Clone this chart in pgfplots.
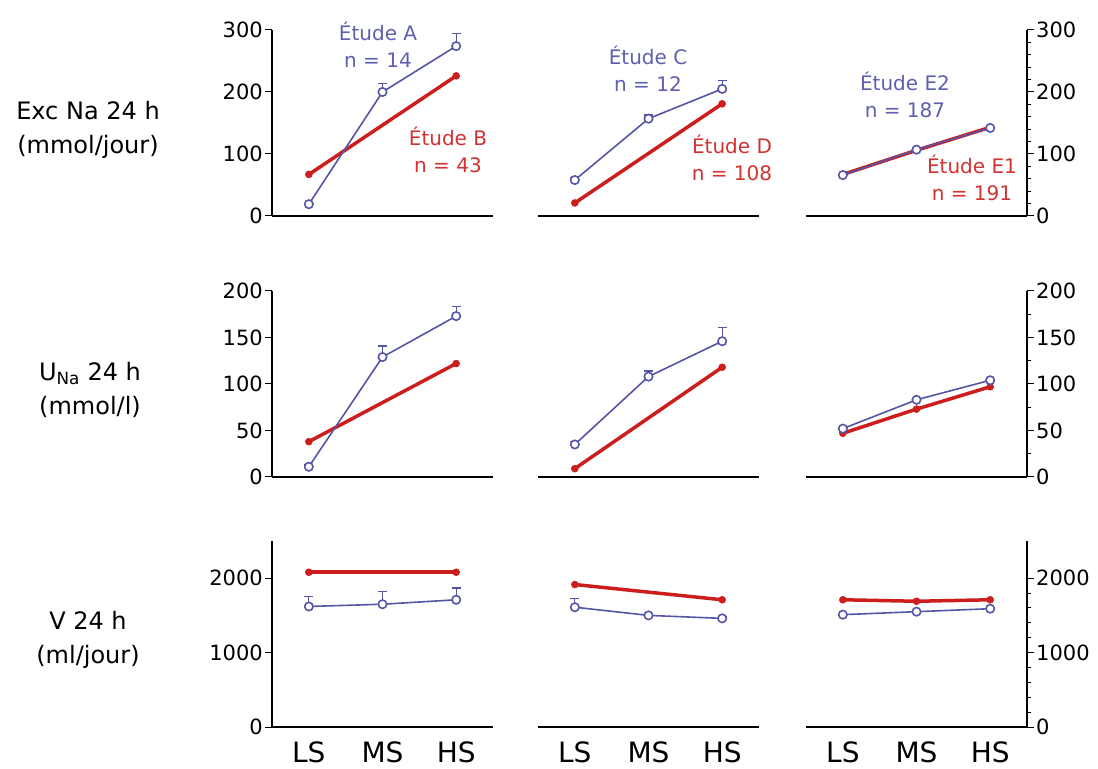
\documentclass[border=0pt]{standalone}
\usepackage{fontspec}
\setmainfont{DejaVu Sans}
\usepackage{pgfplots}
\pgfplotsset{compat=1.18}
\definecolor{cblue}{RGB}{85,85,165}
\definecolor{cred}{RGB}{205,30,30}
\definecolor{tblue}{RGB}{95,95,175}
\definecolor{tred}{RGB}{210,50,50}
\newcommand{\tf}{\fontsize{21bp}{23bp}\selectfont}
\newcommand{\lf}{\fontsize{28bp}{30bp}\selectfont}
\newcommand{\af}{\fontsize{20bp}{27bp}\selectfont}
\newcommand{\rf}{\fontsize{24bp}{34bp}\selectfont}
\pgfplotsset{
 panel/.style={scale only axis, width=221bp, height=186bp, xmin=-0.5, xmax=2.5, ymin=0,
   axis x line*=bottom, xtick={0,1,2}, xticklabels={},
   x tick style={draw=none}, tick align=outside, major tick length=7bp, minor tick length=4bp,
   axis line style={line width=1.3bp, black, -}, every tick/.style={black, line width=1bp},
   xticklabel style={font=\lf, yshift=-4bp},
   yticklabel style={font=\tf, inner xsep=2bp},
   /pgf/number format/assume math mode=true, /pgf/number format/1000 sep={},
   clip=false},
 leftp/.style={panel, axis y line*=left},
 midp/.style={panel, axis y line=none},
 rightp/.style={panel, axis y line*=right},
 bluel/.style={cblue, line width=1.6bp, mark=*, mark size=4.2bp, mark options={fill=white, draw=cblue, line width=1.6bp},
   error bars/.cd, y dir=plus, y explicit, error bar style={line width=1.3bp, cblue}, error mark options={rotate=90, mark size=4.5bp, line width=1.3bp, cblue}},
 redl/.style={cred, line width=3.5bp, mark=*, mark size=3.5bp, mark options={fill=cred, draw=cred, line width=0.5bp}},
 row1/.style={ymax=300, ytick={0,100,200,300}},
 row2/.style={ymax=200, ytick={0,50,100,150,200}},
 row3/.style={ymax=2500, ytick={0,1000,2000}},
}
\begin{document}
\begin{tikzpicture}
\path[use as bounding box] (0,0) rectangle (1098bp,769bp);
% ---------- Row 1 ----------
\begin{axis}[leftp, row1, anchor=south west, at={(272bp,553bp)}]
\addplot[redl] coordinates {(0,67) (2,226)};
\addplot[bluel] table[x=x, y=y, y error=e] {
x y e
0 19 0
1 200 14
2 274 20
};
\end{axis}
\begin{axis}[midp, row1, anchor=south west, at={(538bp,553bp)}]
\addplot[redl] coordinates {(0,21) (2,181)};
\addplot[bluel] table[x=x, y=y, y error=e] {
x y e
0 58 4
1 157 6
2 205 14
};
\end{axis}
\begin{axis}[rightp, row1, minor y tick num=4, anchor=south west, at={(806bp,553bp)}]
\addplot[redl] coordinates {(0,67) (1,106) (2,143)};
\addplot[bluel] table[x=x, y=y, y error=e] {
x y e
0 66 0
1 107 0
2 142 0
};
\end{axis}
% ---------- Row 2 ----------
\begin{axis}[leftp, row2, anchor=south west, at={(272bp,292bp)}]
\addplot[redl] coordinates {(0,38) (2,122)};
\addplot[bluel] table[x=x, y=y, y error=e] {
x y e
0 11 2
1 129 12
2 173 10
};
\end{axis}
\begin{axis}[midp, row2, anchor=south west, at={(538bp,292bp)}]
\addplot[redl] coordinates {(0,9) (2,118)};
\addplot[bluel] table[x=x, y=y, y error=e] {
x y e
0 35 3
1 108 6
2 146 15
};
\end{axis}
\begin{axis}[rightp, row2, minor y tick num=1, anchor=south west, at={(806bp,292bp)}]
\addplot[redl] coordinates {(0,47) (1,73) (2,97)};
\addplot[bluel] table[x=x, y=y, y error=e] {
x y e
0 52 0
1 83 0
2 104 0
};
\end{axis}
% ---------- Row 3 ----------
\begin{axis}[leftp, row3, xticklabels={LS,MS,HS}, anchor=south west, at={(272bp,42bp)}]
\addplot[redl] coordinates {(0,2080) (2,2080)};
\addplot[bluel] table[x=x, y=y, y error=e] {
x y e
0 1620 130
1 1650 170
2 1710 160
};
\end{axis}
\begin{axis}[midp, row3, xticklabels={LS,MS,HS}, anchor=south west, at={(538bp,42bp)}]
\addplot[redl] coordinates {(0,1915) (2,1710)};
\addplot[bluel] table[x=x, y=y, y error=e] {
x y e
0 1610 120
1 1500 20
2 1460 20
};
\end{axis}
\begin{axis}[rightp, row3, minor y tick num=4, xticklabels={LS,MS,HS}, anchor=south west, at={(806bp,42bp)}]
\addplot[redl] coordinates {(0,1710) (1,1690) (2,1710)};
\addplot[bluel] table[x=x, y=y, y error=e] {
x y e
0 1510 0
1 1550 0
2 1590 0
};
\end{axis}
% ---------- Annotations ----------
\node[tblue, align=center, font=\af] at (378bp,{769bp-45bp}) {Étude A\\n = 14};
\node[tred, align=center, font=\af] at (448bp,{769bp-150bp}) {Étude B\\n = 43};
\node[tblue, align=center, font=\af] at (648bp,{769bp-69bp}) {Étude C\\n = 12};
\node[tred, align=center, font=\af] at (732bp,{769bp-158bp}) {Étude D\\n = 108};
\node[tblue, align=center, font=\af] at (905bp,{769bp-95bp}) {Étude E2\\n = 187};
\node[tred, align=center, font=\af] at (972bp,{769bp-178bp}) {Étude E1\\n = 191};
% ---------- Row labels ----------
\node[align=center, font=\rf] at (88bp,{769bp-130bp}) {Exc Na 24 h\\(mmol/jour)};
\node[align=center, font=\rf] at (90bp,{769bp-390bp}) {U\textsubscript{Na} 24 h\\(mmol/l)};
\node[align=center, font=\rf] at (88bp,{769bp-640bp}) {V 24 h\\(ml/jour)};
\end{tikzpicture}
\end{document}
